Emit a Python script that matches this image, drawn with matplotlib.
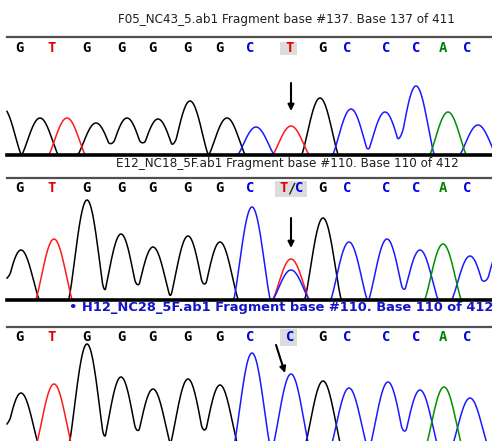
import numpy as np
import matplotlib.pyplot as plt
from matplotlib.patches import Rectangle

W, H = 492, 441

# base calls printed over every trace
base_x = [19, 52, 86, 121, 152, 187, 219, 250, 290, 322, 347, 386, 416, 443, 467]
calls_1 = list("GTGGGGGCTGCCCAC")
calls_2 = list("GTGGGGGC") + ["T/C"] + list("GCCCAC")
calls_3 = list("GTGGGGGCCGCCCAC")

titles = ["F05_NC43_5.ab1 Fragment base #137. Base 137 of 411",
          "E12_NC18_5F.ab1 Fragment base #110. Base 110 of 412",
          "\u2022 H12_NC28_5F.ab1 Fragment base #110. Base 110 of 412"]

# peaks of each trace: scan position, signal, channel
pos_1 = [3, 40, 67, 96, 127, 158, 190, 227, 256, 291, 320, 351, 385, 416, 448, 478]
amp_1 = [470, 370, 370, 320, 370, 360, 540, 370, 280, 290, 570, 460, 430, 690, 430, 300]
chan_1 = "GGTGGGGGCTGCCCAC"

pos_2 = [-8, 21, 54, 87, 121, 153, 188, 220, 252, 291, 291, 323, 349, 387, 420, 443, 470, 500]
amp_2 = [400, 500, 610, 1000, 660, 530, 640, 580, 930, 410, 300, 820, 580, 610, 500, 560, 440, 500]
chan_2 = "GGTGGGGGCTCGCCCACC"

pos_3 = [-8, 21, 54, 87, 121, 153, 188, 220, 252, 291, 323, 349, 388, 420, 444, 470]
amp_3 = [400, 540, 630, 1030, 700, 580, 680, 620, 940, 730, 660, 590, 650, 570, 600, 490]
chan_3 = "GGTGGGGGCCGCCCAC"

trace_col = {'G': '#000000', 'T': '#ff1a1a', 'C': '#1a1aff', 'A': '#009000'}
text_col = {'G': '#000000', 'T': '#e00000', 'C': '#0000e0', 'A': '#008000', '/': '#202020'}


# cosine peak, slightly sharpened: round top, sharp trough
def trace(pos, amp, chan, x, base, w=18.5, p=1.3):
    y = np.zeros_like(x)
    for c0, a, c in zip(pos, amp, chan):
        if c == base:
            d = np.abs(x - c0)
            y += np.where(d < w, a * np.cos(np.pi * np.minimum(d, w) / (2 * w)) ** p, 0.0)
    return y


fig = plt.figure(figsize=(W / 100, H / 100), dpi=100)
bg = fig.add_axes([0, 0, 1, 1])
bg.set_xlim(0, W)
bg.set_ylim(H, 0)
bg.axis('off')

panels = [
    dict(calls=calls_1, peaks=(pos_1, amp_1, chan_1), title_x=118, title_y=19, line_y=36.5,
         letter_y=48.5, box=(280, 297, 42, 55), top=55, bottom=157, ylim=(-20, 1000),
         baseline=True, arrow=((291, 720), (291, 440)), tstyle=dict(color='#202020', fontsize=8.65)),
    dict(calls=calls_2, peaks=(pos_2, amp_2, chan_2), title_x=116, title_y=163, line_y=178,
         letter_y=188.5, box=(275, 307, 181, 197), top=197, bottom=302, ylim=(-20, 1030),
         baseline=True, arrow=((291, 820), (291, 520)), tstyle=dict(color='#202020', fontsize=8.65)),
    dict(calls=calls_3, peaks=(pos_3, amp_3, chan_3), title_x=69, title_y=308, line_y=327,
         letter_y=337, box=(280, 297, 329, 346), top=340, bottom=441, ylim=(60, 1070),
         baseline=False, arrow=((276, 1020), (285, 740)),
         tstyle=dict(color='#1414c8', fontsize=9.4, fontweight='bold')),
]

x = np.arange(7, W + 1, 0.5)

for i, pnl in enumerate(panels):
    bg.text(pnl['title_x'], pnl['title_y'], titles[i], ha='left', va='center', **pnl['tstyle'])
    bg.plot([7, W], [pnl['line_y'], pnl['line_y']], color='#505050', lw=1.6)
    x0, x1, y0, y1 = pnl['box']
    bg.add_patch(Rectangle((x0, y0), x1 - x0, y1 - y0, color='#dcdcdc', lw=0))
    for bx, call in zip(base_x, pnl['calls']):
        if call == "T/C":
            for dx, ch in zip([-7.5, 0, 8], "T/C"):
                bg.text(bx + 1 + dx, pnl['letter_y'], ch, ha='center', va='center',
                        family='DejaVu Sans Mono', fontweight='bold', fontsize=10, color=text_col[ch])
        else:
            bg.text(bx, pnl['letter_y'], call, ha='center', va='center',
                    family='DejaVu Sans Mono', fontweight='bold', fontsize=10, color=text_col[call])

    ax = fig.add_axes([0, 1 - pnl['bottom'] / H, 1, (pnl['bottom'] - pnl['top']) / H])
    ax.set_xlim(0, W)
    ax.set_ylim(*pnl['ylim'])
    ax.axis('off')
    pos, amp, chan = pnl['peaks']
    for base in "GTCA":
        ax.plot(x, trace(pos, amp, chan, x, base), color=trace_col[base], lw=1.1)
    if pnl['baseline']:
        ax.plot([7, W], [0, 0], color='black', lw=2.6, zorder=5)
    (ax_x, ax_y), (tx, ty) = pnl['arrow']
    ax.annotate('', xy=(tx, ty), xytext=(ax_x, ax_y), annotation_clip=False,
                arrowprops=dict(arrowstyle='-|>', color='black', lw=1.5, mutation_scale=9,
                                shrinkA=0, shrinkB=0))

fig.savefig('out.png', dpi=100)
